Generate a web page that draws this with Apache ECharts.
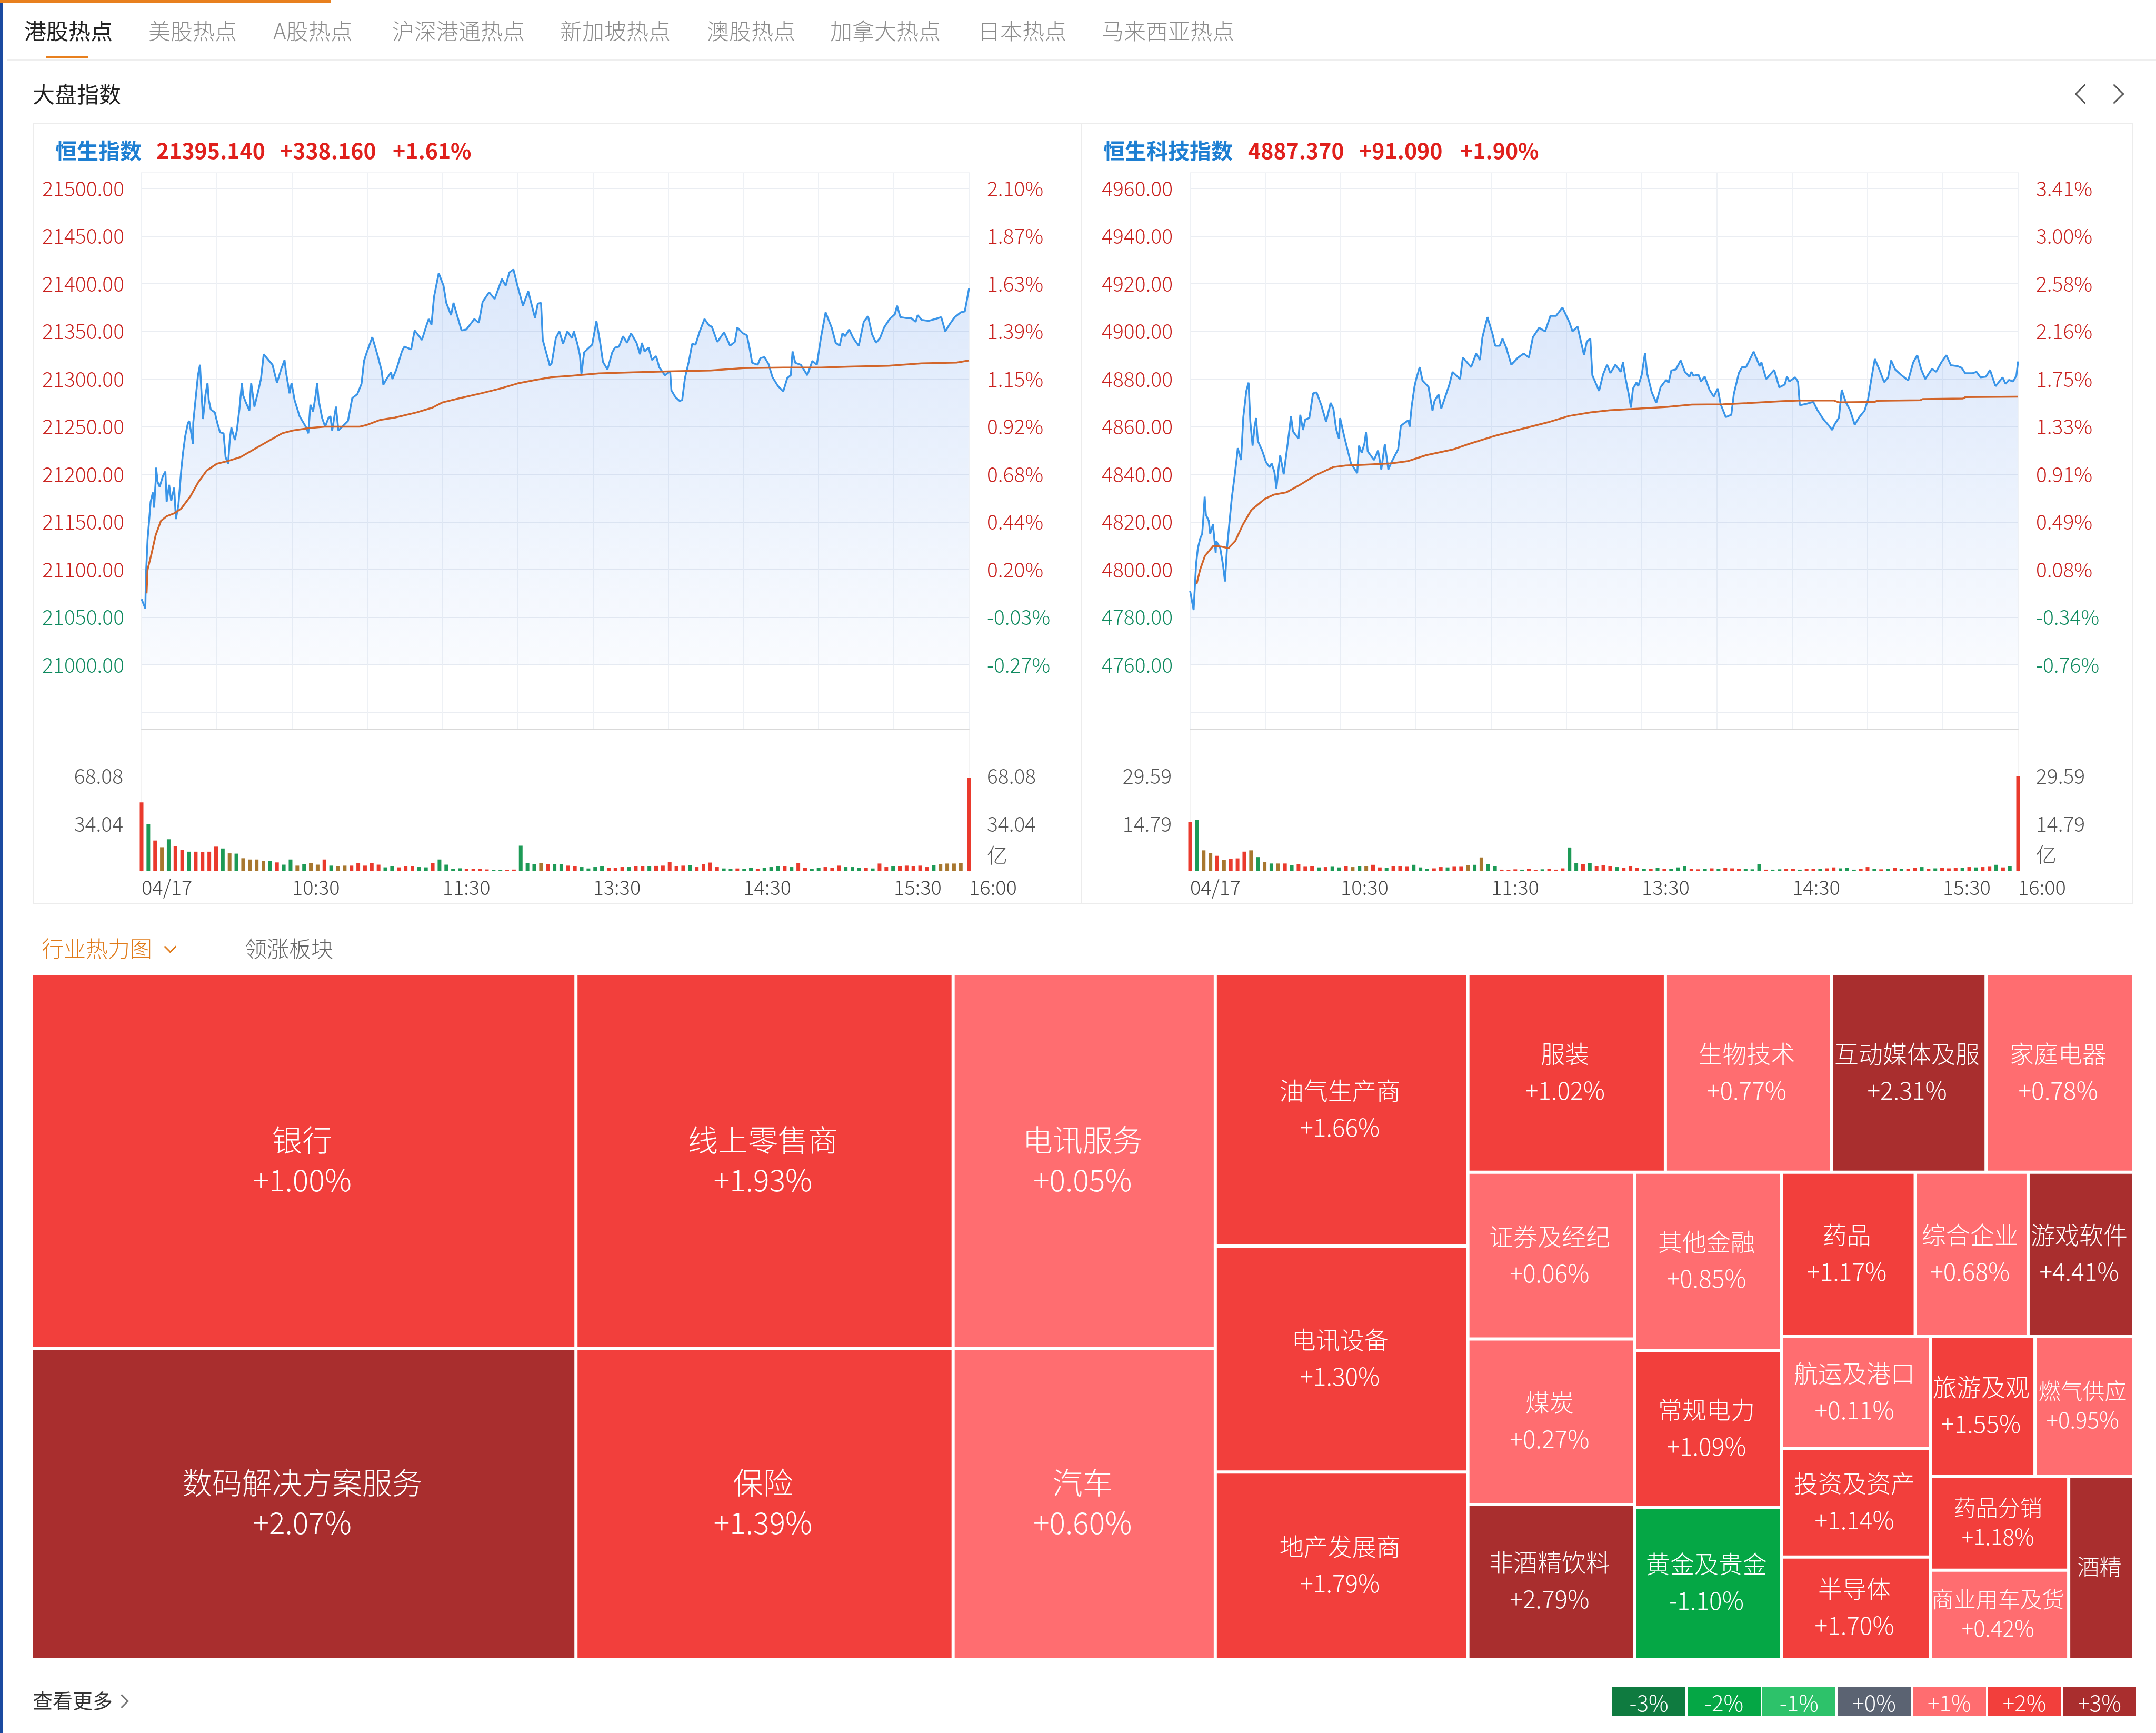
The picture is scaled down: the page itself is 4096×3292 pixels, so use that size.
<!DOCTYPE html>
<html>
<head>
<meta charset="utf-8">
<title>港股热点</title>
<script src="https://cdn.jsdelivr.net/npm/echarts@6/dist/echarts.min.js"></script>
<style>
  html, body { margin: 0; padding: 0; background: #fff; }
  body { position: relative; width: 4096px; height: 3292px; overflow: hidden; font-family: "Noto Sans CJK SC", sans-serif; font-weight: 300; }
  #chart { position: absolute; left: 0; top: 0; width: 4096px; height: 3292px; }
  .abs { position: absolute; white-space: nowrap; line-height: 1; }
  .tab { top: 36px; font-size: 42px; color: #8c8c8c; }
  .tab.on { color: #222; font-weight: 400; }
  .quote { top: 264px; font-size: 41px; font-weight: 600; color: #e0201c; }
  .quote.name { color: #1e7fd2; font-weight: 700; }
  .chev { position: absolute; width: 24px; height: 24px; border-left: 3px solid #555; border-bottom: 3px solid #555; }
  .swatch { position: absolute; top: 3205px; width: 139px; height: 55px; line-height: 55px; text-align: center; color: #fff; font-size: 42px; }
</style>
</head>
<body>
<div id="chart"></div>
<div id="chrome"></div>
<script>
// tabs, legend
const tabNames = ['港股热点', '美股热点', 'A股热点', '沪深港通热点', '新加坡热点', '澳股热点', '加拿大热点', '日本热点', '马来西亚热点'];
const tabLefts = [46, 282, 519, 745, 1064, 1343, 1577, 1858, 2093];
const legendLabels = ['-3%', '-2%', '-1%', '+0%', '+1%', '+2%', '+3%'];
const legendColors = ['#0f7b40', '#05a745', '#2dc26a', '#5b6372', '#ff6d70', '#f23f3c', '#a92e2e'];

// x axis (minutes since 09:30)
const timeTickMinutes = [0, 60, 120, 180, 240, 300, 330];
const timeTickLabels = ['04/17', '10:30', '11:30', '13:30', '14:30', '15:30', '16:00'];

// 恒生指数
const hsiTicks = [21500, 21450, 21400, 21350, 21300, 21250, 21200, 21150, 21100, 21050, 21000];
const hsiPctLabels = ['2.10%', '1.87%', '1.63%', '1.39%', '1.15%', '0.92%', '0.68%', '0.44%', '0.20%', '-0.03%', '-0.27%'];
const hsiMinutes = [0, 1.5, 1.7, 2.4, 3, 3.6, 4.5, 5, 5.6, 5.8, 6.4, 7.2, 8.5, 9.5, 10, 11, 11.8, 13, 13.7, 14.7, 15.8, 16.5, 17.4, 18.5, 19, 20.5, 20.6, 21.5, 22.5, 23.3, 23.8, 24.5, 25.5, 26.3, 26.8, 27.6, 29.2, 30.3, 31.3, 32.7, 33.5, 34.5, 35.2, 35.8, 37.2, 38, 39, 40, 40.5, 41.5, 43, 43.7, 45, 46.3, 47.6, 48.7, 50.6, 52.2, 54, 55.5, 57, 57.6, 59, 59.8, 61, 63, 65.7, 66.5, 67.3, 68.4, 69.4, 70, 70.6, 72, 73.2, 74.5, 75.3, 76, 77.5, 78.5, 80, 82.3, 84, 86, 87.7, 88.7, 89.8, 92, 94, 95.7, 96.4, 97.9, 99.5, 100, 101.6, 103.8, 104.8, 107.5, 108, 108.9, 111.8, 113.7, 114.5, 115.6, 116.6, 118.5, 120.4, 121.5, 123.4, 124.4, 125.8, 127.6, 129.5, 132.7, 134.5, 136, 138.6, 140.8, 143.7, 145.2, 146.7, 148.3, 149.9, 152.1, 154.2, 156.9, 158, 159.3, 160, 162.8, 163.6, 165.2, 166.6, 168.1, 169.8, 171.6, 172.4, 173.8, 174.8, 175.4, 176.5, 179.7, 181.4, 182.9, 184, 185.8, 187.7, 188.8, 190.4, 192, 193.6, 195.2, 197.4, 198.8, 199.5, 200.6, 202.2, 203.5, 205.2, 206.5, 208.7, 210.8, 211.3, 212.9, 214.6, 215.6, 216.7, 218.3, 219.6, 220.9, 222.6, 224.5, 226.4, 227.4, 229.6, 232.3, 234.7, 236.6, 237.6, 239.8, 241.4, 242.5, 243.5, 245.7, 246.8, 248.4, 250, 251.6, 253.7, 255.9, 257.5, 258.9, 259.6, 260.7, 262.9, 265.5, 267.5, 269.3, 270.9, 272.8, 275.2, 276.8, 278.4, 279.5, 280.6, 282.2, 283.8, 286, 288, 289.7, 291.3, 292.9, 294.5, 296.1, 298.3, 300.4, 301.3, 302.6, 305, 306.9, 308.7, 309.5, 311.2, 313.8, 316.5, 318.9, 320.5, 322.4, 324.3, 326.7, 328.3, 330];
const hsiPrices = [21069, 21059, 21091, 21132, 21151, 21171, 21181, 21165, 21192, 21207, 21192, 21187, 21198, 21203, 21171, 21189, 21172, 21186, 21153, 21168, 21204, 21222, 21240, 21254, 21256, 21232, 21254, 21278, 21304, 21315, 21290, 21258, 21284, 21296, 21278, 21268, 21265, 21253, 21244, 21243, 21218, 21211, 21237, 21249, 21236, 21246, 21268, 21296, 21283, 21276, 21267, 21296, 21271, 21285, 21300, 21326, 21320, 21315, 21296, 21309, 21320, 21307, 21285, 21296, 21278, 21261, 21249, 21243, 21273, 21266, 21283, 21296, 21278, 21259, 21250, 21259, 21261, 21246, 21271, 21246, 21250, 21256, 21280, 21284, 21295, 21319, 21328, 21344, 21326, 21309, 21294, 21301, 21307, 21300, 21310, 21329, 21334, 21331, 21339, 21351, 21341, 21357, 21363, 21357, 21386, 21411, 21398, 21380, 21367, 21380, 21367, 21351, 21352, 21363, 21359, 21381, 21391, 21384, 21405, 21398, 21412, 21415, 21398, 21377, 21392, 21364, 21379, 21380, 21341, 21314, 21317, 21343, 21350, 21337, 21350, 21343, 21350, 21337, 21325, 21305, 21328, 21336, 21361, 21338, 21318, 21310, 21328, 21333, 21334, 21345, 21338, 21348, 21338, 21326, 21338, 21329, 21333, 21320, 21324, 21312, 21304, 21308, 21288, 21281, 21277, 21278, 21301, 21319, 21337, 21336, 21350, 21363, 21356, 21355, 21339, 21349, 21335, 21339, 21354, 21348, 21346, 21332, 21317, 21315, 21322, 21323, 21316, 21302, 21293, 21287, 21301, 21304, 21329, 21317, 21315, 21304, 21319, 21315, 21343, 21370, 21354, 21338, 21335, 21348, 21345, 21352, 21343, 21335, 21360, 21366, 21347, 21338, 21343, 21354, 21363, 21368, 21377, 21365, 21364, 21364, 21360, 21367, 21362, 21361, 21363, 21365, 21350, 21358, 21365, 21370, 21371, 21395.14];
const hsiAvgMinutes = [2, 2.4, 4, 5.6, 7.7, 10, 13, 15.8, 19.5, 22.7, 26, 30, 34.5, 39.4, 46, 52, 56, 60.3, 66.7, 73, 80, 87, 90, 95, 101, 109.7, 116, 120, 127, 135.4, 143, 150, 157, 163.6, 171.6, 182.4, 196, 210, 227, 240, 256, 271, 282, 298, 311, 325, 330];
const hsiAvgPrices = [21075, 21100, 21117, 21136, 21151, 21156, 21159, 21164, 21177, 21192, 21204, 21211, 21214, 21218, 21228, 21237, 21243, 21246, 21248.5, 21250, 21250, 21250, 21252, 21257, 21259.5, 21265, 21270, 21275.5, 21280, 21285, 21290, 21295.4, 21299, 21302, 21303.5, 21306, 21307, 21308, 21309, 21311.4, 21312, 21312, 21313, 21314, 21316.4, 21317.3, 21319.5];
const hsiVolumes = [49.3, 33.6, 22, 17.2, 22.9, 17.9, 15.3, 14, 14, 13.8, 14, 17.6, 16.3, 12.8, 12.6, 9.3, 8.4, 8.4, 7.2, 7.2, 6.3, 4.7, 8.4, 4, 5, 5.9, 4.7, 8.4, 4, 3.4, 4, 4, 5.9, 4, 5.9, 4.7, 2.8, 3.4, 2.8, 3.4, 3.4, 3, 2.8, 5.9, 8.4, 4.7, 1.8, 2.1, 1.5, 1.5, 1.5, 1.3, 0.9, 1, 0.8, 1.2, 18.3, 6, 5, 6, 5, 5, 5, 4, 3.5, 3, 2, 3, 3.5, 2.5, 2.5, 3, 3, 3.5, 3.5, 3.5, 3.8, 4, 6.4, 3.5, 4, 4.5, 3, 5, 6.2, 3, 2, 1.5, 2, 1.5, 2.5, 1.5, 2.5, 3, 3.5, 3.5, 3, 6, 2.5, 1.5, 2.5, 3, 2.5, 4, 3, 3, 2.5, 2.5, 2, 5.5, 3, 3.5, 3.5, 4, 3.5, 4, 3, 4.5, 5, 5.5, 5.5, 6, 67];
const hsiVolumeTones = 'rgrogrrgrr rrgogoooog rggogoorgo orrrrrggrr rggrggggrr rrggrrgggo rggrrggggr rrgrrgrrrr rgrrrrggrg grgggrgrrg grrrgggrgr rgrrrrrgoo oor'.replace(/ /g, '');

// 恒生科技指数
const hstechTicks = [4960, 4940, 4920, 4900, 4880, 4860, 4840, 4820, 4800, 4780, 4760];
const hstechPctLabels = ['3.41%', '3.00%', '2.58%', '2.16%', '1.75%', '1.33%', '0.91%', '0.49%', '0.08%', '-0.34%', '-0.76%'];
const hstechMinutes = [0, 1.4, 1.8, 2.4, 3.1, 4, 4.8, 5.3, 5.8, 6.3, 7.4, 8, 9.1, 10.2, 10.4, 12, 13.1, 13.9, 14.7, 15.6, 16.6, 17.7, 18.5, 19, 20.3, 21.2, 22.4, 23.3, 24, 24.9, 25.7, 26.3, 27, 28.7, 30.3, 31.7, 32.5, 33.6, 34.4, 35.3, 35.9, 37.3, 38.9, 39.6, 40.2, 41, 43.2, 43.9, 45, 45.9, 47.5, 49, 50.4, 52.3, 54.2, 56, 57.1, 58.2, 59.3, 59.8, 61.4, 64.1, 66.6, 67.3, 68.4, 69.5, 70.1, 70.8, 73.3, 74.9, 76.2, 77.6, 79, 80.2, 82.9, 84, 87, 87.5, 88.3, 89.4, 90.1, 91.5, 92.6, 95, 96.6, 97.4, 99, 100.1, 101.5, 103.3, 104.6, 107.6, 108.7, 112, 114, 115.5, 116.5, 118.5, 120.5, 121.6, 123.4, 124.5, 125.9, 128, 130.7, 133, 135, 136.6, 139.1, 141.5, 143.6, 145.8, 148.4, 151.1, 152.4, 154.4, 157, 158.1, 159.5, 160.3, 163, 164.6, 166.2, 167.5, 169.5, 171.6, 172.5, 173.6, 174.8, 175.7, 176.5, 177.9, 178.6, 180, 181.3, 182.1, 184, 185.8, 187.5, 189.7, 190.7, 191.8, 193.6, 195.5, 197.2, 199, 199.8, 200.6, 202.6, 203.6, 205.1, 207, 208.7, 210.3, 211.4, 213.5, 215.7, 216.7, 218.7, 220, 221.6, 224.6, 227, 227.7, 229.6, 232.8, 234.8, 237, 237.9, 238.8, 241.2, 242.3, 243, 245.7, 248.4, 250, 252.2, 254.3, 255.9, 256.9, 258.6, 259.7, 261.3, 263, 264.9, 266.7, 268.8, 270.2, 271.5, 272.9, 274.7, 276.6, 278.2, 279.4, 281, 283.3, 286.2, 288.2, 289.8, 291.4, 293, 295.7, 297.3, 299.4, 301.4, 303.2, 305.9, 307.5, 308.9, 311.8, 313.4, 315, 317.2, 318.8, 321, 323.8, 325, 326.3, 328, 329.3, 330];
const hstechPrices = [4791, 4783, 4791, 4802.5, 4809, 4813, 4815, 4822, 4830.6, 4823, 4820.6, 4815, 4819, 4807, 4812, 4809, 4802, 4795, 4809, 4819, 4830, 4839, 4846, 4851, 4846, 4864, 4875, 4878.5, 4862, 4852, 4860, 4863.6, 4854, 4850, 4845, 4843, 4844.6, 4841, 4834, 4843, 4848, 4840, 4853, 4859, 4864.5, 4858, 4855, 4865, 4858.6, 4863, 4863.6, 4874, 4874.4, 4869, 4862, 4870, 4867.6, 4859, 4855, 4863.6, 4856, 4844.6, 4840.5, 4852, 4849, 4853, 4857.7, 4849.6, 4846, 4850, 4842, 4852.7, 4842, 4845, 4850.5, 4860.4, 4862.7, 4860, 4868.5, 4876.7, 4880, 4885, 4879.4, 4876.7, 4866.7, 4870.8, 4873.5, 4867.6, 4872, 4877.6, 4883, 4880, 4889, 4885, 4890.7, 4888, 4897.5, 4906, 4899, 4894, 4894, 4897, 4893.4, 4886, 4889, 4890.7, 4889, 4897.5, 4901.5, 4900, 4906.5, 4906.5, 4910, 4904, 4900, 4902, 4890, 4895.7, 4897, 4881.6, 4875, 4882, 4886, 4882.5, 4886, 4883, 4887, 4880, 4873.7, 4868, 4876, 4878.5, 4877, 4881.8, 4891, 4882.5, 4874.4, 4870, 4876.6, 4879.6, 4878.5, 4883.6, 4884, 4887.8, 4883, 4881, 4883, 4881.4, 4881.8, 4879, 4881, 4875.5, 4872.6, 4876, 4869.6, 4864, 4865, 4873.7, 4882.5, 4885, 4885, 4891.5, 4885.4, 4887, 4880, 4883.8, 4876.5, 4877.7, 4881, 4879, 4880.7, 4878.8, 4869, 4869.6, 4870.4, 4867, 4863.4, 4860.8, 4858.6, 4861, 4863.8, 4875.5, 4870.4, 4867, 4860.8, 4864, 4866.7, 4871.5, 4880, 4888.4, 4884, 4878.7, 4880.7, 4887.8, 4884, 4881.8, 4879.4, 4887, 4890, 4884, 4880, 4884.3, 4883, 4887, 4890, 4885.8, 4885.4, 4884.7, 4882.5, 4882.4, 4883, 4880.7, 4881, 4883.8, 4877, 4880.7, 4878, 4879.6, 4879, 4881.4, 4887.37];
const hstechAvgMinutes = [2.6, 4, 5.9, 9.3, 12.6, 15.3, 18, 21, 24.4, 29.8, 33.5, 38.3, 43.7, 50, 57, 62, 69.5, 80, 86.7, 94, 105, 111, 121, 132, 142.5, 151, 159.7, 167.3, 175.7, 190, 200, 212.4, 222, 236, 243, 256.5, 258.6, 273, 273.7, 291, 292, 308, 309, 330];
const hstechAvgPrices = [4794, 4800, 4805.7, 4810, 4809.6, 4809, 4812, 4818.8, 4825, 4829.7, 4831.5, 4832.4, 4835.5, 4839.6, 4843, 4843.7, 4844, 4844.6, 4845.5, 4848, 4850.5, 4852.7, 4856, 4859, 4861.8, 4864.5, 4866, 4866.9, 4867.4, 4868.3, 4869.3, 4869.4, 4869.9, 4870.7, 4871, 4871, 4870.2, 4870.4, 4870.9, 4871.1, 4871.6, 4871.8, 4872.4, 4872.6];
const hstechVolumes = [15.3, 15.9, 6.5, 5.7, 4.8, 3.6, 3.8, 4, 6.1, 6.5, 4.4, 2.8, 2.4, 2.4, 2.4, 1.8, 2.3, 1.4, 1.6, 1.2, 1.3, 1.4, 1.2, 1.5, 1.3, 1.6, 1.5, 2, 1.2, 1.1, 1.5, 1.6, 1.4, 2, 1.2, 0.8, 0.9, 1.3, 1.2, 1.4, 1.4, 1.8, 2, 4.3, 2.3, 1.6, 0.5, 0.4, 0.6, 0.5, 0.7, 0.4, 0.6, 0.7, 0.5, 0.9, 7.4, 2.5, 2.2, 2.5, 1.5, 1.8, 1.6, 1.3, 1, 1.6, 1, 0.8, 0.7, 1, 0.7, 0.8, 1.2, 1.6, 0.7, 0.6, 0.8, 0.9, 0.7, 1, 0.9, 0.8, 0.7, 0.6, 2.3, 0.5, 0.5, 0.6, 0.7, 0.7, 0.5, 0.7, 0.8, 0.7, 0.9, 1.2, 0.9, 1, 0.5, 0.7, 1.3, 0.8, 0.6, 0.7, 1, 0.7, 0.8, 1, 1.3, 0.8, 0.9, 1, 0.9, 1.1, 1.1, 1.3, 1.2, 1.3, 1.4, 2, 1.2, 1.6, 29.5];
const hstechVolumeTones = 'rgoororrro gogorgrrrg rggrogorrg rrrgggrrgr rogoggrrrg rrgrrrggrg rrrgrrrgrg rgggrrgrgr rrgggrggrr grrgrrgggr rgrgrgrrgr grrrgrgrrg rgr'.replace(/ /g, '');

// 行业热力图
const sectorNames = ['银行', '数码解决方案服务', '线上零售商', '保险', '电讯服务', '汽车', '油气生产商', '电讯设备', '地产发展商', '服装', '生物技术', '互动媒体及服', '家庭电器', '证券及经纪', '煤炭', '非酒精饮料', '其他金融', '常规电力', '黄金及贵金', '药品', '综合企业', '游戏软件', '航运及港口', '投资及资产', '半导体', '旅游及观', '燃气供应', '药品分销', '商业用车及货', '酒精'];
const sectorSizes = [107180, 88988, 74254, 61650, 51625, 42862, 36149, 30002, 24864, 20592, 17292, 16144, 15355, 14600, 14500, 13552, 13803, 12145, 11770, 11543, 9758, 9103, 8748, 8478, 7992, 7676, 7221, 6834, 6482, 6227];
const sectorChanges = [1.00, 2.07, 1.93, 1.39, 0.05, 0.60, 1.66, 1.30, 1.79, 1.02, 0.77, 2.31, 0.78, 0.06, 0.27, 2.79, 0.85, 1.09, -1.10, 1.17, 0.68, 4.41, 0.11, 1.14, 1.70, 1.55, 0.95, 1.18, 0.42, null];

const RED = '#c9211e', GREEN = '#0f8a5f', GREY = '#555', FONT = '"Noto Sans CJK SC", sans-serif';
const toneColors = { r: '#ea3a2d', g: '#1d9a56', o: '#a8772f' };
const BAR_STEP = 2.7;

function sectorColor(change) {
  if (change === null || change >= 2) return '#a92e2e';
  if (change >= 1) return '#f23f3c';
  if (change >= 0) return '#ff6d70';
  return '#05a745';
}

// tile text follows the tile size
function sectorLabel(size) {
  if (size >= 40000) return { fontSize: 57, lineHeight: 76 };
  if (size >= 7500) return { fontSize: 46, lineHeight: 70 };
  return { fontSize: 42, lineHeight: 55 };
}

const zip = (xs, ys) => xs.map((x, i) => [x, ys[i]]);

const panels = [
  { left: 269, right: 1841, prevClose: 21056.98, min: 20932, max: 21516.6, gridStep: 50, ticks: hsiTicks, pct: hsiPctLabels,
    minutes: hsiMinutes, prices: hsiPrices, avgMinutes: hsiAvgMinutes, avgPrices: hsiAvgPrices,
    volumes: hsiVolumes, tones: hsiVolumeTones, volMax: 101.47, volTicks: [34.04, 68.08], unitAt: 11.8 },
  { left: 2261, right: 3834, prevClose: 4796.28, min: 4732.8, max: 4966.63, gridStep: 20, ticks: hstechTicks, pct: hstechPctLabels,
    minutes: hstechMinutes, prices: hstechPrices, avgMinutes: hstechAvgMinutes, avgPrices: hstechAvgPrices,
    volumes: hstechVolumes, tones: hstechVolumeTones, volMax: 44.1, volTicks: [14.79, 29.59], unitAt: 5.15 }
];

const grids = [], xAxes = [], yAxes = [], series = [];

panels.forEach((p) => {
  const mainGrid = grids.length;
  const volGrid = mainGrid + 1;
  const priceColor = (v) => (v >= p.prevClose ? RED : GREEN);
  const tickValues = p.ticks.concat([p.ticks[p.ticks.length - 1] - p.gridStep]);

  grids.push({ left: p.left, width: p.right - p.left, top: 328, height: 1058, show: true, borderColor: '#f4f5f7', borderWidth: 2 });
  grids.push({ left: p.left, width: p.right - p.left, top: 1386, height: 269 });

  xAxes.push({
    type: 'value', gridIndex: mainGrid, min: 0, max: 330, interval: 30,
    axisLine: { show: true, onZero: false, lineStyle: { color: '#d9d9d9', width: 2 } },
    axisTick: { show: false }, axisLabel: { show: false },
    splitLine: { show: true, lineStyle: { color: '#eef1f5', width: 2 } }
  });
  xAxes.push({
    type: 'value', gridIndex: volGrid, min: 0, max: 330,
    axisLine: { show: false }, axisTick: { show: false }, splitLine: { show: false },
    axisLabel: {
      customValues: timeTickMinutes, align: 'left', margin: 12, fontSize: 38, fontFamily: FONT, fontWeight: 300, color: '#444',
      formatter: (v) => timeTickLabels[timeTickMinutes.indexOf(v)]
    }
  });

  const priceAxis = {
    type: 'value', gridIndex: mainGrid, min: p.min, max: p.max,
    axisLine: { show: false },
    axisTick: { show: false, customValues: tickValues },
    splitLine: { show: false }
  };
  yAxes.push(Object.assign({}, priceAxis, {
    position: 'left',
    splitLine: { show: true, lineStyle: { color: '#eaedf2', width: 2 } },
    axisLabel: {
      customValues: p.ticks, margin: 33, fontSize: 39, fontFamily: FONT, fontWeight: 300,
      color: (v) => priceColor(v), formatter: (v) => v.toFixed(2)
    }
  }));
  yAxes.push(Object.assign({}, priceAxis, {
    position: 'right',
    axisLabel: {
      customValues: p.ticks, margin: 34, fontSize: 39, fontFamily: FONT, fontWeight: 300,
      color: (v) => priceColor(v), formatter: (v) => p.pct[p.ticks.indexOf(v)]
    }
  }));

  const volLabelStyle = { fontSize: 39, fontFamily: FONT, fontWeight: 300, color: GREY };
  yAxes.push({
    type: 'value', gridIndex: volGrid, position: 'left', min: 0, max: p.volMax,
    axisLine: { show: true, lineStyle: { color: '#f3f3f3', width: 2 } }, axisTick: { show: false }, splitLine: { show: false },
    axisLabel: Object.assign({ customValues: p.volTicks, margin: 35, formatter: (v) => v.toFixed(2) }, volLabelStyle)
  });
  yAxes.push({
    type: 'value', gridIndex: volGrid, position: 'right', min: 0, max: p.volMax,
    axisLine: { show: true, lineStyle: { color: '#f3f3f3', width: 2 } }, axisTick: { show: false }, splitLine: { show: false },
    axisLabel: Object.assign({
      customValues: [p.unitAt].concat(p.volTicks), margin: 34,
      formatter: (v) => (v === p.unitAt ? '亿' : v.toFixed(2))
    }, volLabelStyle)
  });

  const yBase = yAxes.length - 4;
  series.push({
    type: 'line', xAxisIndex: mainGrid, yAxisIndex: yBase, data: zip(p.minutes, p.prices),
    showSymbol: false, silent: true, lineStyle: { color: '#3a95e8', width: 3.5 },
    areaStyle: {
      origin: p.ticks[p.ticks.length - 1],
      color: new echarts.graphic.LinearGradient(0, 0, 0, 1, [
        { offset: 0, color: 'rgba(36,110,230,0.23)' },
        { offset: 1, color: 'rgba(36,110,230,0.04)' }
      ])
    }
  });
  series.push({
    type: 'line', xAxisIndex: mainGrid, yAxisIndex: yBase, data: zip(p.avgMinutes, p.avgPrices),
    showSymbol: false, silent: true, lineStyle: { color: '#d2652a', width: 3.5 }
  });
  series.push({
    type: 'bar', xAxisIndex: volGrid, yAxisIndex: yBase + 2, barWidth: 7, silent: true,
    data: p.volumes.map((v, i) => ({
      value: [i === p.volumes.length - 1 ? 330 : i * BAR_STEP, v],
      itemStyle: { color: toneColors[p.tones[i]] || toneColors.r }
    }))
  });
});

series.push({
  type: 'treemap', left: 63, top: 1853, width: 3987, height: 1296,
  roam: false, nodeClick: false, silent: true, sort: false, squareRatio: 1,
  breadcrumb: { show: false },
  itemStyle: { gapWidth: 6, borderWidth: 0 },
  label: {
    show: true, overflow: 'none', padding: 0, offset: [-3, -2], color: '#fff', fontFamily: FONT, fontWeight: 300,
    formatter: (params) => {
      const d = params.data;
      if (d.change === null) return d.name;
      return d.name + '\n' + (d.change > 0 ? '+' : '') + d.change.toFixed(2) + '%';
    }
  },
  data: sectorNames.map((name, i) => ({
    name, value: sectorSizes[i], change: sectorChanges[i],
    itemStyle: { color: sectorColor(sectorChanges[i]) },
    label: sectorLabel(sectorSizes[i])
  }))
});

const chart = echarts.init(document.getElementById('chart'));
chart.setOption({ animation: false, backgroundColor: '#fff', grid: grids, xAxis: xAxes, yAxis: yAxes, series });

// page chrome around the chart
const chrome = document.getElementById('chrome');
function add(cls, left, top, text, style) {
  const el = document.createElement('div');
  el.className = cls;
  el.style.left = left + 'px';
  if (top !== null) el.style.top = top + 'px';
  if (text) el.textContent = text;
  Object.assign(el.style, style || {});
  chrome.appendChild(el);
  return el;
}
const box = (left, top, w, h, style) => add('abs', left, top, '', Object.assign({ width: w + 'px', height: h + 'px' }, style));

box(0, 0, 6, 3292, { background: '#1b4aa0' });
box(0, 0, 628, 5, { background: '#e8801e' });
box(14, 113, 4082, 2, { background: '#eeeeee' });
box(88, 106, 80, 5, { background: '#e8801e' });
tabNames.forEach((t, i) => add('abs tab' + (i === 0 ? ' on' : ''), tabLefts[i], null, t));
add('abs', 62, 156, '大盘指数', { fontSize: '42px', color: '#222', fontWeight: 400 });
add('chev', 3947, 165, '', { transform: 'rotate(45deg)' });
add('chev', 4003, 165, '', { transform: 'rotate(225deg)' });

box(63, 234, 3989, 1484, { border: '2px solid #ececec', boxSizing: 'border-box' });
box(2054, 234, 2, 1484, { background: '#ececec' });

[['name', 105, '恒生指数'], ['', 297, '21395.140'], ['', 532, '+338.160'], ['', 746, '+1.61%'],
 ['name', 2096, '恒生科技指数'], ['', 2371, '4887.370'], ['', 2582, '+91.090'], ['', 2774, '+1.90%']]
  .forEach(([c, x, t]) => add('abs quote ' + c, x, null, t));

add('abs', 79, 1779, '行业热力图', { fontSize: '42px', color: '#e07b1a' });
add('chev', 315, 1790, '', { width: '14px', height: '14px', borderColor: '#e07b1a', transform: 'rotate(-45deg)' });
add('abs', 465, 1779, '领涨板块', { fontSize: '42px', color: '#666' });
add('abs', 62, 3210, '查看更多', { fontSize: '38px', color: '#333', fontWeight: 400 });
add('chev', 222, 3222, '', { width: '16px', height: '16px', transform: 'rotate(225deg)', borderColor: '#777' });

legendLabels.forEach((t, i) => {
  const el = add('swatch', 3063 + i * 142.7, null, t);
  el.style.background = legendColors[i];
});
</script>
</body>
</html>
